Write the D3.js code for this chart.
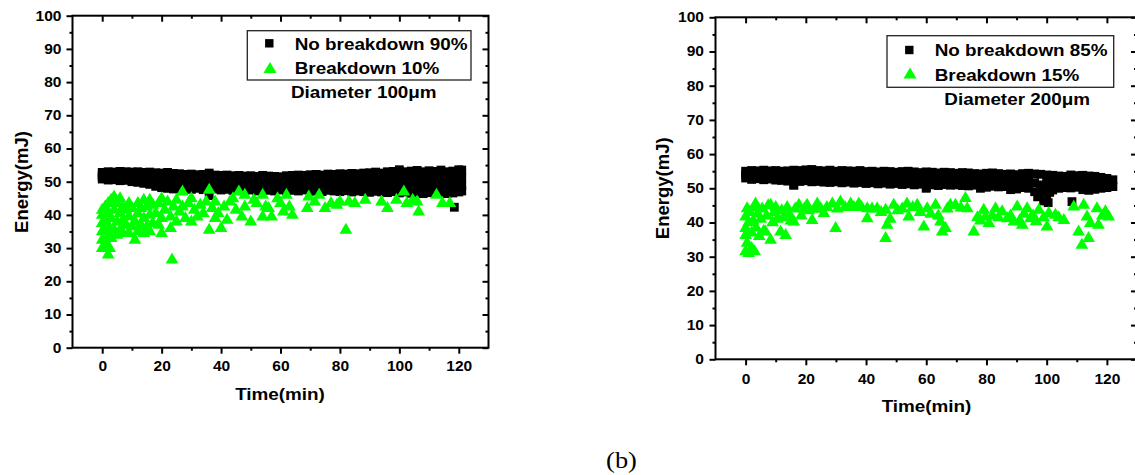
<!DOCTYPE html>
<html><head><meta charset="utf-8">
<script src="https://cdn.jsdelivr.net/npm/d3@7"></script>
<style>body{margin:0;background:#fff}svg{display:block}</style>
</head><body>
<svg id="c" width="1135" height="475"></svg>
<script>
// ---------- DATA ----------
const xTicks = [0, 20, 40, 60, 80, 100, 120];
const xMinor = [10, 30, 50, 70, 90, 110];
const yTicks = [0, 10, 20, 30, 40, 50, 60, 70, 80, 90, 100];
const yMinor = [5, 15, 25, 35, 45, 55, 65, 75, 85, 95];
const xTitle = "Time(min)";
const yTitle = "Energy(mJ)";

const bandTimes = [0,2,4,6,8,10,12,14,16,18,20,22,24,26,28,30,32,34,36,38,40,42,44,46,48,50,52,54,56,58,60,62,64,66,68,70,72,74,76,78,80,82,84,86,88,90,92,94,96,98,100,102,104,106,108,110,112,114,116,118,120];

// Left panel (100 µm) — no breakdown band rows
const leftNoBreakU = [52.8,53.0,52.9,53.1,53.0,52.9,53.0,52.8,52.9,52.7,52.6,52.8,52.5,52.4,52.2,52.3,52.1,52.2,52.6,52.0,51.9,52.0,51.8,51.9,51.7,51.8,51.6,51.9,51.7,51.6,51.5,51.8,51.9,52.0,51.9,52.1,52.2,52.0,52.3,52.2,52.4,52.3,52.5,52.4,52.6,52.7,52.9,52.6,53.0,53.1,53.6,53.0,53.2,53.4,53.0,53.3,53.1,53.5,53.0,53.2,53.6];
const leftNoBreakM1 = [52.1,52.2,52.0,52.3,52.1,52.0,51.9,51.8,51.6,51.4,51.2,51.1,50.9,51.0,50.7,50.8,50.8,50.6,50.4,50.6,50.4,50.6,50.3,50.5,50.2,50.4,50.1,50.5,50.2,50.1,50.2,50.3,50.4,50.4,50.4,50.4,50.6,50.3,50.7,50.5,50.6,50.6,50.6,50.7,50.7,50.8,51.0,50.7,50.9,51.1,51.3,51.0,51.0,51.2,50.8,51.1,50.9,51.3,50.8,51.0,51.4];
const leftNoBreakM2 = [51.5,51.3,51.4,51.1,51.3,51.0,50.9,50.5,50.5,49.9,49.6,49.7,49.4,49.5,49.4,49.2,49.3,49.2,48.0,49.2,49.0,49.1,48.9,49.0,48.8,48.9,48.7,49.0,48.9,48.7,48.8,48.8,48.9,48.8,49.0,48.8,48.9,48.7,49.0,48.9,48.8,49.0,48.8,48.9,48.9,48.7,49.0,48.8,48.8,49.0,48.9,48.9,48.7,49.0,48.6,48.9,48.7,49.0,48.6,48.8,49.1];
const leftNoBreakL = [50.8,50.5,50.6,50.3,50.4,50.0,49.8,49.5,49.2,48.6,48.2,48.0,47.8,48.1,47.9,47.7,48.0,47.6,45.8,47.8,47.5,47.7,47.4,47.6,47.3,47.5,47.2,47.6,47.4,47.2,47.5,47.3,47.4,47.2,47.5,47.1,47.3,47.0,47.4,47.2,47.0,47.3,46.9,47.2,47.0,46.8,47.1,46.9,46.7,47.0,46.6,46.9,46.5,46.8,46.4,46.7,46.5,46.8,46.4,46.6,46.9];
const leftNoBreakExtra = [[118.5,42.3],[121,53.5],[121,51.2],[121,48.8],[121,47.2]];
const leftBreak = [[0,30.5],[0,33],[0,35.5],[0,38],[0,40.5],[0,42],[1,36.5],[1,39],[1,43],[1.5,31.5],[2,28.5],[2,34],[2,37],[2,41],[2,44],[2.5,30.5],[3,33.5],[3,39.5],[3,45],[4,36],[4,42],[4,46],[5,34.5],[5,38.5],[5,44],[6,36],[6,41],[6,45.5],[7,35],[7,39],[7,43],[8,37.5],[8,42],[9,35],[9,40],[9,44],[10,37],[10,42.5],[11,33],[11,38.5],[12,35.5],[12,41],[12,44],[13,37.5],[13,42.5],[14,35],[14,39.5],[14,45],[15,37],[15,43],[16,35.5],[16,40.5],[16,45],[17,38],[17,43.5],[18,41],[19,37.5],[19,44],[20,35],[20,39.5],[20,45.5],[21,42],[22,44.5],[23,36.5],[23,40],[23.5,27],[24,43],[25,38.5],[25,45],[26,41.5],[27,47.5],[27,43],[28,39.5],[29,44],[30,45.5],[30,38.5],[31,42],[32,40],[33,43.5],[34,41],[35,44.5],[36,48],[36,36],[37,42.5],[38,44.5],[38,39.5],[39,41],[40,36.5],[41,43],[42,39],[43,44.5],[44,45.5],[45,42],[46,47.5],[47,40],[48,46.5],[48,43],[50,38.5],[51,45],[52,44],[54,46.5],[54,40],[55,43],[56,42.5],[57,40],[59,45.5],[60,44],[61,41.5],[62,46.5],[63,43],[64,40.5],[69,42.5],[69.5,46],[71.5,44.5],[73,46.5],[75,42.5],[77,44],[79,43.5],[80,44.5],[82,36],[83,44.5],[85,44],[88.5,45],[94,44.5],[96,42.5],[99,45],[101.5,47.5],[102.5,44],[104.5,45],[106,44.5],[106.5,41.5],[112.5,46.5],[114.5,44],[117,44]];

// Right panel (200 µm)
const rightNoBreakU = [55.0,55.2,55.1,55.3,55.1,55.2,55.0,55.1,55.3,55.2,55.4,55.5,55.2,55.1,55.3,55.0,55.2,55.1,55.0,55.2,54.9,55.0,54.8,55.0,54.9,54.7,54.9,55.0,54.8,54.6,54.8,54.7,54.5,54.7,54.6,54.4,54.6,54.5,54.3,54.2,54.4,54.5,54.3,54.1,54.2,54.0,54.3,54.4,54.2,54.1,53.9,53.8,53.6,53.5,53.9,53.7,53.8,53.6,53.5,53.2,52.9];
const rightNoBreakM = [54.0,53.9,54.0,53.9,53.9,53.8,53.7,53.6,53.1,53.6,53.8,53.7,53.6,53.5,53.5,53.5,53.4,53.5,53.2,53.5,53.1,53.3,53.0,53.3,53.0,53.0,53.0,53.2,52.9,52.9,52.5,52.9,52.6,52.9,52.8,52.7,52.7,52.6,52.6,52.1,52.4,52.5,52.3,52.3,51.9,51.9,52.2,52.2,51.6,51.0,50.5,51.6,51.8,51.8,52.0,52.0,51.7,51.5,51.6,51.6,51.5];
const rightNoBreakL = [53.0,52.6,52.8,52.5,52.7,52.4,52.3,52.1,51.0,52.0,52.2,51.9,52.0,51.8,51.7,51.9,51.6,51.8,51.5,51.7,51.4,51.6,51.3,51.5,51.2,51.4,51.1,51.3,51.0,51.2,50.3,51.0,50.8,51.1,50.9,51.0,50.8,50.7,50.9,50.0,50.3,50.6,50.4,50.5,49.6,49.8,50.2,50.0,49.0,48.0,47.2,49.5,50.0,50.2,50.1,50.3,49.6,49.4,49.7,50.0,50.2];
const rightNoBreakExtra = [[108.4,46.1],[97,47.5],[99,46.3],[100.5,45.8],[99,49],[101,48.8],[100,52.2],[98,50.2],[122,52.5],[122,50.5],[16,50.9],[60,50]];
const rightBreak = [[0,32],[0.5,34.5],[1,31.5],[2,33],[3,32],[0,36.8],[0,38.8],[0,42.2],[0.5,44.6],[1,40.5],[1.5,43.5],[2,37.5],[2.5,41],[3,45],[3.3,46],[3.5,39],[4,43],[4.5,36.5],[5,41.5],[5.5,44.5],[6,38],[6.6,37.8],[7,42.5],[7.5,45.5],[8.3,35.4],[8.3,45.6],[9,40.5],[9.5,43.5],[10,45],[10.5,41.5],[11.6,37.8],[12,44],[12.5,42],[13.3,36.8],[13.8,45],[14.5,43],[15,41],[16,40.7],[16.5,44.5],[17.7,45.6],[18.5,42.5],[19.5,44.5],[20.4,45.6],[21,44],[22.1,41.2],[23,44.5],[23.8,46],[25,44.5],[26,43.2],[27,45],[28.8,46],[29.9,38.8],[30.5,44.5],[31.5,46.6],[33,45],[34.9,46],[36,45],[37.6,46],[38.5,45],[40.4,41.7],[40.4,44.6],[42,44.5],[43.7,44.6],[45,43.5],[46.5,35.9],[46.5,44.2],[47,39.8],[48,41.5],[49.2,45.6],[50.5,44],[52,44.5],[53.6,46],[54.2,42.2],[55.5,45],[57,45.6],[58,43.5],[59.2,39.3],[60.3,44.6],[61.5,43],[63.1,45.6],[64,42.5],[64.7,40.7],[65.3,37.8],[66.4,38.8],[67,44.5],[68,45.6],[69.7,45.6],[71.5,44.8],[73,47.6],[73.6,44.6],[75.8,37.8],[77,42],[78,41],[79.1,44.2],[79.7,42.2],[80.8,40.3],[82,42.5],[83,44.6],[84,42],[85.2,43.7],[86.9,41.7],[88,42.5],[89.1,40.7],[90.2,45.1],[91,41],[91.9,39.8],[92.5,43],[93.5,44.6],[94.6,41.7],[95.5,42.5],[96.5,40.8],[97.4,44.2],[99,42],[100.1,39.3],[100.7,43.2],[102.9,42.7],[104,42],[105.7,41.2],[109,45.1],[110.6,37.8],[111.7,33.9],[112.3,45.6],[113.4,42.2],[113.9,35.9],[114.5,40.3],[116.7,44.6],[117.2,39.8],[118.5,42.5],[119.5,43.7],[120.6,42.2]];

const leftLegend = ["No breakdown 90%", "Breakdown 10%"];
const rightLegend = ["No breakdown 85%", "Breakdown 15%"];
const leftNote = "Diameter 100\u03bcm";
const rightNote = "Diameter 200\u03bcm";
const panelLabel = "(b)";

// ---------- DRAW ----------
const svg = d3.select("#c");
const SX = 1.11;
const FONT = "'Liberation Sans', Arial, sans-serif";
const GREEN = "#00ff00";
const triPath = (w, h) => `M0,${-h/2}L${w/2},${h/2}L${-w/2},${h/2}Z`;

function txt(g, x, y, s, size, anchor, sx) {
  return g.append("text")
    .attr("transform", `translate(${x},${y}) scale(${sx || SX},1)`)
    .attr("text-anchor", anchor || "start")
    .style("font-family", FONT).style("font-weight", "bold")
    .style("font-size", size + "px").attr("fill", "#000").text(s);
}

function panel(cfg) {
  const g = svg.append("g");
  const x = d3.scaleLinear().domain([-10, 130]).range([cfg.x0, cfg.x1]);
  const y = d3.scaleLinear().domain([0, 100]).range([cfg.y0, cfg.y1]);

  const sq = [];
  cfg.rows.forEach(r => bandTimes.forEach((t, i) => sq.push([t, r[i]])));
  cfg.extra.forEach(p => sq.push(p));
  const S = 8.8;
  g.append("g").selectAll("rect").data(sq).join("rect")
    .attr("x", d => x(d[0]) - S/2).attr("y", d => y(d[1]) - S/2)
    .attr("width", S).attr("height", S).attr("fill", "#000");

  g.append("g").selectAll("path").data(cfg.brk).join("path")
    .attr("transform", d => `translate(${x(d[0])},${y(d[1])})`)
    .attr("d", triPath(12.8, 11)).attr("fill", GREEN);

  const styleAx = sel => {
    sel.select(".domain").remove();
    sel.selectAll(".tick line").attr("stroke", "#000").attr("stroke-width", 2);
    sel.selectAll(".tick text").each(function() {
      const t = d3.select(this);
      const x0 = +t.attr("x") || 0, y0 = +t.attr("y") || 0;
      t.attr("x", 0).attr("y", 0)
        .attr("transform", `translate(${x0},${y0}) scale(${SX},1)`)
        .style("font-family", FONT).style("font-weight", "bold").style("font-size", "14px")
        .attr("fill", "#000");
    });
  };

  g.append("g").attr("transform", `translate(${cfg.x0},0)`)
    .call(d3.axisLeft(y).tickValues(yTicks).tickSize(6).tickPadding(cfg.yPad).tickSizeOuter(0)).call(styleAx);
  g.append("g").attr("transform", `translate(${cfg.x0},0)`)
    .call(d3.axisLeft(y).tickValues(yMinor).tickSize(3).tickFormat("").tickSizeOuter(0)).call(styleAx);
  g.append("g").attr("transform", `translate(0,${cfg.y0})`)
    .call(d3.axisBottom(x).tickValues(xTicks).tickSize(6).tickPadding(cfg.xPad).tickSizeOuter(0)).call(styleAx);
  g.append("g").attr("transform", `translate(0,${cfg.y0})`)
    .call(d3.axisBottom(x).tickValues(xMinor).tickSize(3).tickFormat("").tickSizeOuter(0)).call(styleAx);
  g.append("g").attr("transform", `translate(0,${cfg.y1})`)
    .call(d3.axisBottom(x).tickValues(xTicks).tickSize(6).tickFormat("").tickSizeOuter(0)).call(styleAx);
  g.append("g").attr("transform", `translate(0,${cfg.y1})`)
    .call(d3.axisBottom(x).tickValues(xMinor).tickSize(3).tickFormat("").tickSizeOuter(0)).call(styleAx);
  g.append("g").attr("transform", `translate(${cfg.x1},0)`)
    .call(d3.axisLeft(y).tickValues(yTicks).tickSize(6).tickFormat("").tickSizeOuter(0)).call(styleAx);
  g.append("g").attr("transform", `translate(${cfg.x1},0)`)
    .call(d3.axisLeft(y).tickValues(yMinor).tickSize(3).tickFormat("").tickSizeOuter(0)).call(styleAx);

  g.append("rect").attr("x", cfg.x0).attr("y", cfg.y1)
    .attr("width", cfg.x1 - cfg.x0).attr("height", cfg.y0 - cfg.y1)
    .attr("fill", "none").attr("stroke", "#000").attr("stroke-width", 2);

  txt(g, cfg.xtX, cfg.xtY, xTitle, 17, "middle");
  g.append("text").attr("transform", `translate(${cfg.ytX},${cfg.ytY}) rotate(-90)`)
    .attr("text-anchor", "middle").style("font-family", FONT).style("font-weight", "bold")
    .style("font-size", "18.5px").text(yTitle);

  const L = cfg.leg;
  g.append("rect").attr("x", L.x).attr("y", L.y).attr("width", L.w).attr("height", L.h)
    .attr("fill", "none").attr("stroke", "#222").attr("stroke-width", 1.3);
  g.append("rect").attr("x", L.sqx - 4.2).attr("y", L.sqy - 4.2).attr("width", 8.4).attr("height", 8.4).attr("fill", "#000");
  g.append("path").attr("transform", `translate(${L.trx},${L.try})`).attr("d", triPath(13, 11)).attr("fill", GREEN);
  txt(g, L.tx, L.b1, cfg.legText[0], 17);
  txt(g, L.tx, L.b2, cfg.legText[1], 17);
  txt(g, L.nx, L.nb, cfg.note, 17);
}

panel({
  x0: 72.5, x1: 488.5, y0: 347.7, y1: 15.7, yPad: 5, xPad: 7,
  rows: [leftNoBreakU, leftNoBreakM1, leftNoBreakM2, leftNoBreakL], extra: leftNoBreakExtra, brk: leftBreak,
  xtX: 280, xtY: 400, ytX: 27.5, ytY: 182,
  leg: {x: 247.3, y: 30.7, w: 223.7, h: 49.3, sqx: 269.3, sqy: 43.3, trx: 270, try: 67.5, tx: 294.7, b1: 50, b2: 73.8, nx: 291, nb: 97.5},
  legText: leftLegend, note: leftNote
});
panel({
  x0: 715.5, x1: 1137, y0: 359.3, y1: 17.3, yPad: 5.5, xPad: 8.8,
  rows: [rightNoBreakU, rightNoBreakM, rightNoBreakL], extra: rightNoBreakExtra, brk: rightBreak,
  xtX: 926.5, xtY: 412.3, ytX: 669.3, ytY: 188.3,
  leg: {x: 887, y: 35.7, w: 226.7, h: 51.6, sqx: 909.3, sqy: 50, trx: 910, try: 73, tx: 934.7, b1: 55.7, b2: 80.8, nx: 944.3, nb: 105},
  legText: rightLegend, note: rightNote
});

svg.append("text").attr("transform", "translate(621.5,468) scale(1.1,1)")
  .attr("text-anchor", "middle").style("font-family", "'Liberation Serif','Times New Roman',serif")
  .style("font-size", "24px").attr("fill", "#000").text(panelLabel);
</script>
</body></html>
